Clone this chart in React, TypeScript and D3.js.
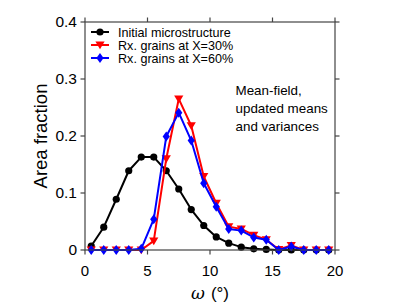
import React from "react";
import * as d3 from "d3";

const omega = [0.5, 1.5, 2.5, 3.5, 4.5, 5.5, 6.5, 7.5, 8.5, 9.5, 10.5, 11.5, 12.5, 13.5, 14.5, 15.5, 16.5, 17.5, 18.5, 19.5];
const initialMicro = [0.007, 0.040, 0.089, 0.139, 0.163, 0.163, 0.139, 0.107, 0.071, 0.043, 0.023, 0.012, 0.005, 0.002, 0.001, 0, 0, 0, 0, 0];
const rx30 = [0, 0, 0, 0, 0, 0.016, 0.160, 0.265, 0.218, 0.129, 0.082, 0.041, 0.037, 0.026, 0.018, 0.001, 0.008, 0, 0, 0];
const rx60 = [0, 0, 0, 0, 0.002, 0.054, 0.199, 0.241, 0.192, 0.117, 0.076, 0.037, 0.034, 0.022, 0.018, 0, 0.006, 0, 0, 0];
const xTicks = [0, 5, 10, 15, 20];
const yTicks = [0, 0.1, 0.2, 0.3, 0.4];
const yTickLabels = ["0", "0.1", "0.2", "0.3", "0.4"];
const seriesNames = ["Initial microstructure", "Rx. grains at X=30%", "Rx. grains at X=60%"];
const annotation = ["Mean-field,", "updated means", "and variances"];

const W = 407, H = 305;
const L = 85, R = 335, T = 22, B = 250;
const FONT = "'Liberation Sans', Arial, Helvetica, sans-serif";
const AX = "#444";

function Marker({ kind, x, y, color }: { kind: string; x: number; y: number; color: string }) {
  if (kind === "circle") return <circle cx={x} cy={y} r={3.6} fill={color} />;
  if (kind === "tri") {
    const s = 4.6;
    return <path d={`M${x - s},${y - s * 0.75}L${x + s},${y - s * 0.75}L${x},${y + s * 0.95}Z`} fill={color} />;
  }
  return <path d={`M${x},${y - 5}L${x + 3.6},${y}L${x},${y + 5}L${x - 3.6},${y}Z`} fill={color} />;
}

export default function App() {
  const x = d3.scaleLinear().domain([0, 20]).range([L, R]);
  const y = d3.scaleLinear().domain([0, 0.4]).range([B, T]);
  const line = d3.line<number>().x((_, i) => x(omega[i])).y((d) => y(d));
  const series = [
    { vals: initialMicro, color: "#000", kind: "circle" },
    { vals: rx30, color: "#ff0000", kind: "tri" },
    { vals: rx60, color: "#0000ff", kind: "diamond" },
  ];
  const tk = 4.5;
  return (
    <svg width={W} height={H} style={{ position: "absolute", left: 0, top: 0 }} fontFamily={FONT}>
      <rect x={0} y={0} width={W} height={H} fill="#fff" />
      {series.map((s, si) => (
        <g key={si}>
          <path d={line(s.vals) || ""} fill="none" stroke={s.color} strokeWidth={2} strokeLinejoin="round" />
          {s.vals.map((v, i) => (
            <Marker key={i} kind={s.kind} x={x(omega[i])} y={y(v)} color={s.color} />
          ))}
        </g>
      ))}
      <rect x={L} y={T} width={R - L} height={B - T} fill="none" stroke={AX} strokeWidth={1.2} />
      {xTicks.map((t) => (
        <g key={"x" + t}>
          <line x1={x(t)} x2={x(t)} y1={B} y2={B + tk} stroke={AX} strokeWidth={1.2} />
          <line x1={x(t)} x2={x(t)} y1={T} y2={T - tk} stroke={AX} strokeWidth={1.2} />
          <text x={x(t)} y={B + 26} fontSize={15} textAnchor="middle" fill="#000">{t}</text>
        </g>
      ))}
      {yTicks.map((t, i) => (
        <g key={"y" + t}>
          <line x1={L} x2={L - tk} y1={y(t)} y2={y(t)} stroke={AX} strokeWidth={1.2} />
          <line x1={R} x2={R + tk} y1={y(t)} y2={y(t)} stroke={AX} strokeWidth={1.2} />
          <text x={L - 8} y={y(t) + 5.3} fontSize={15.5} textAnchor="end" fill="#000">{yTickLabels[i]}</text>
        </g>
      ))}
      <text transform={`translate(47,${(T + B) / 2}) rotate(-90)`} fontSize={18.5} textAnchor="middle" fill="#000">Area fraction</text>
      <text x={(L + R) / 2} y={299} fontSize={17} textAnchor="middle" fill="#000">
        <tspan fontStyle="italic" fontFamily="'DejaVu Serif', serif">ω</tspan>
        <tspan dx={6}>(°)</tspan>
      </text>
      {series.map((s, i) => {
        const ly = 32 + i * 13;
        return (
          <g key={"lg" + i}>
            <line x1={91} x2={109} y1={ly} y2={ly} stroke={s.color} strokeWidth={2} />
            <Marker kind={s.kind} x={100} y={ly} color={s.color} />
            <text x={118} y={ly + 4.5} fontSize={12.6} fill="#000">{seriesNames[i]}</text>
          </g>
        );
      })}
      {annotation.map((a, i) => (
        <text key={a} x={235.5} y={95 + i * 18} fontSize={13.4} fill="#000">{a}</text>
      ))}
    </svg>
  );
}
